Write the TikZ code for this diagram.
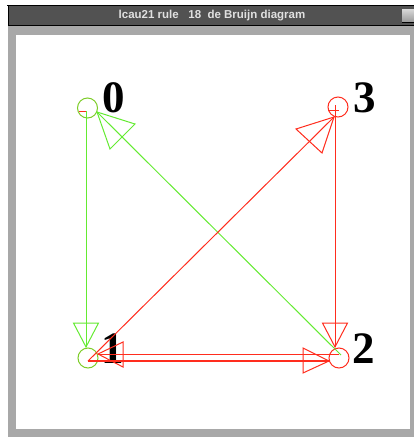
\documentclass[tikz,border=0pt]{standalone}
\usepackage{fontspec}
\setmainfont{Liberation Serif}
\setsansfont{Liberation Sans}
\definecolor{gline}{RGB}{100,235,50}
\definecolor{gcirc}{RGB}{125,205,40}
\definecolor{rline}{RGB}{255,45,30}
\definecolor{framegray}{RGB}{168,168,168}
\definecolor{bargray}{RGB}{82,82,82}
\begin{document}
\begin{tikzpicture}[x=1pt,y=-1pt,
  vtx/.style={circle,minimum size=20pt,inner sep=0pt,line width=1pt},
  lbl/.style={anchor=base,inner sep=0pt,font=\fontsize{45}{45}\selectfont\bfseries},
  edge/.style={line width=1pt},
  head/.style={line width=1pt,line join=miter}]
\useasboundingbox (0,0) rectangle (414,437);
\fill[white] (0,0) rectangle (414,437);
\fill[framegray] (8,26) rectangle (414,437);
\fill[white] (16,35) rectangle (410,429);
\fill[bargray] (8,5) rectangle (414,26);
\draw[black,line width=1pt] (7,5.5) -- (414,5.5);
\draw[black,line width=1pt] (8.5,5) -- (8.5,26);
\draw[black,line width=1pt] (8,25.5) -- (414,25.5);
\node[font=\sffamily\bfseries\fontsize{11.5}{11.5}\selectfont,text=white!88!black,inner sep=0pt] (title) at (212,16)
  {lcau21 rule\ \ \ 18\ \ de Bruijn diagram};
\shade[top color=gray!30,bottom color=gray!80] (402,9) rectangle (414,22);
\draw[black,line width=1pt] (402,22.5) -- (414,22.5);

% nodes
\node[vtx,draw=gcirc] (n0) at (87.5,108) {};
\node[vtx,draw=rline] (n3) at (338,107) {};
\node[vtx,draw=gcirc] (n1) at (88,358) {};
\node[vtx,draw=rline] (n2) at (339,358) {};
\node[lbl] (l0) at (113.5,112.5) {0};
\node[lbl] (l3) at (364.5,112.5) {3};
\node[lbl] (l1) at (113,363) {1};
\node[lbl] (l2) at (364,363) {2};

% edge end points
\coordinate (a0) at (86,111);
\coordinate (a1) at (88,361);
\coordinate (a2g) at (341,355);
\coordinate (a2r) at (339,354);
\coordinate (a3) at (335,110);
\coordinate (t01) at (86,347);
\coordinate (t20) at (97,112);
\coordinate (t13) at (334,117);
\coordinate (t32) at (335,347);
\coordinate (t12) at (329,361);
\coordinate (t21) at (98,354);

% green edges
\draw[edge,gline] (a0) -- (t01);
\draw[head,gline] (t01) -- ++(-12.5,-24) -- ++(25,0) -- cycle;
\draw[edge,gline] (a2g) -- (t20);
\draw[head,gline] (t20) -- ++(38,12) -- ++(-25,25) -- cycle;

% red edges
\draw[edge,rline] (a1) -- (t13);
\draw[head,rline] (t13) -- ++(-38,12) -- ++(26,24) -- cycle;
\draw[edge,rline] (a3) -- (t32);
\draw[head,rline] (t32) -- ++(-12.5,-24) -- ++(25,0) -- cycle;
\draw[edge,rline,line width=1.4pt] (a1) -- (t12);
\draw[head,rline] (t12) -- ++(-26,-13) -- ++(0,25) -- cycle;
\draw[edge,rline] (a2r) -- (t21);
\draw[head,rline] (t21) -- ++(25,-12) -- ++(0,25) -- cycle;

% self loops
\draw[edge,rline] (79,111) -- (a0);
\draw[edge,rline] (329,110) -- (339,110);
\draw[edge,rline] (335,105) -- (a3);
\end{tikzpicture}
\end{document}
